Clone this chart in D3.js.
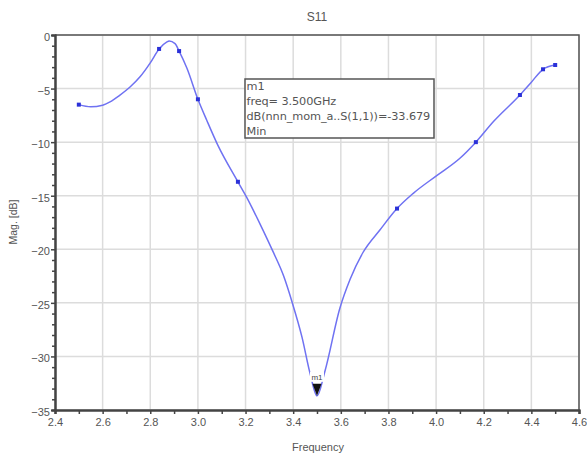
<!DOCTYPE html>
<html>
<head>
<meta charset="utf-8">
<script src="https://cdn.jsdelivr.net/npm/d3@7"></script>
<style>
  body { margin: 0; background: #fff; }
  svg { display: block; font-family: "Liberation Sans", Arial, sans-serif; }
</style>
</head>
<body>
<svg id="chart" width="587" height="458"></svg>
<script>
// S11 sweep (GHz, dB)
const freq = [2.5, 2.55, 2.6, 2.631, 2.67, 2.715, 2.757, 2.8, 2.837, 2.87, 2.879, 2.904, 2.921, 2.954,
  3.0, 3.038, 3.084, 3.168, 3.206, 3.26, 3.315, 3.36, 3.395, 3.437, 3.471, 3.5, 3.533, 3.596, 3.639,
  3.693, 3.764, 3.836, 3.903, 4.004, 4.1, 4.167, 4.24, 4.352, 4.4, 4.449, 4.5];
const s11 = [-6.5, -6.7, -6.55, -6.25, -5.65, -4.85, -3.9, -2.6, -1.3, -0.65, -0.55, -0.8, -1.5, -3.1,
  -6.0, -8.0, -10.3, -13.7, -15.2, -17.6, -20.2, -22.5, -24.9, -28.2, -31.6, -33.679, -31.4, -25.5, -22.8,
  -20.3, -18.2, -16.2, -14.8, -13.1, -11.5, -10.0, -8.1, -5.6, -4.4, -3.2, -2.8];
// sample points drawn as dots
const sampleFreq = [2.5, 2.837, 2.921, 3.0, 3.168, 3.836, 4.167, 4.352, 4.449, 4.5];

const xTicks = [2.4, 2.6, 2.8, 3.0, 3.2, 3.4, 3.6, 3.8, 4.0, 4.2, 4.4, 4.6];
const yTicks = [0, -5, -10, -15, -20, -25, -30, -35];

const markerName = "m1";
const markerFreq = 3.5;
const markerVal = -33.679;
const markerLines = ["m1", "freq= 3.500GHz", "dB(nnn_mom_a..S(1,1))=-33.679", "Min"];

const svg = d3.select("#chart");
const x = d3.scaleLinear().domain([2.4, 4.6]).range([55, 579]);
const y = d3.scaleLinear().domain([-35, 0]).range([410, 35]);

// Grid
svg.append("g").selectAll("line").data(xTicks).join("line")
  .attr("x1", d => x(d)).attr("x2", d => x(d))
  .attr("y1", y(0)).attr("y2", y(-35))
  .attr("stroke", "#dcdcdc").attr("stroke-width", 1.5);
svg.append("g").selectAll("line").data(yTicks).join("line")
  .attr("x1", x(2.4)).attr("x2", x(4.6))
  .attr("y1", d => y(d)).attr("y2", d => y(d))
  .attr("stroke", "#dcdcdc").attr("stroke-width", 1.5);

// Frame (top / right)
svg.append("path")
  .attr("d", `M${x(2.4)},${y(0)}H${x(4.6)}V${y(-35)}`)
  .attr("fill", "none").attr("stroke", "#555").attr("stroke-width", 1.5);

// Axes
const xAxis = svg.append("g")
  .attr("transform", `translate(0,${y(-35)})`)
  .call(d3.axisBottom(x).tickValues(xTicks).tickFormat(d3.format(".1f")).tickSize(4).tickPadding(4));
const xMinor = svg.append("g")
  .attr("transform", `translate(0,${y(-35)})`)
  .call(d3.axisBottom(x).tickValues(xTicks.slice(0, -1).map(d => d + 0.1)).tickFormat("").tickSize(4));
const yAxis = svg.append("g")
  .attr("transform", `translate(${x(2.4)},0)`)
  .call(d3.axisLeft(y).tickValues(yTicks).tickFormat(d3.format("d")).tickSize(4).tickPadding(1));
const yMinor = svg.append("g")
  .attr("transform", `translate(${x(2.4)},0)`)
  .call(d3.axisLeft(y).tickValues(d3.range(-34, 0).filter(d => d % 5 !== 0)).tickFormat("").tickSize(3));

[xAxis, xMinor, yAxis, yMinor].forEach(a => {
  a.select(".domain").attr("stroke", "#444").attr("stroke-width", 2);
  a.selectAll(".tick line").attr("stroke", "#444").attr("stroke-width", 1.5);
  a.selectAll("text").attr("fill", "#555").attr("font-size", 11);
});
yAxis.selectAll("text").attr("dy", "0.5em");

// Curve
const pts = freq.map((f, i) => ({ f, v: s11[i] }));
const line = d3.line()
  .x(d => x(d.f)).y(d => y(d.v))
  .curve(d3.curveMonotoneX);
svg.append("path")
  .datum(pts)
  .attr("fill", "none")
  .attr("stroke", "#6f72f2")
  .attr("stroke-width", 1.5)
  .attr("d", line);

svg.append("g").selectAll("rect")
  .data(pts.filter(d => sampleFreq.includes(d.f)))
  .join("rect")
  .attr("x", d => x(d.f) - 2).attr("y", d => y(d.v) - 2)
  .attr("width", 4).attr("height", 4)
  .attr("fill", "#2b31d8");

// Marker triangle at min
const mx = x(markerFreq), my = y(markerVal);
svg.append("path")
  .attr("d", `M${mx},${my}L${mx - 4.5},${my - 12}L${mx + 4.5},${my - 12}Z`)
  .attr("fill", "#111");
svg.append("rect")
  .attr("x", mx - 7).attr("y", my - 24).attr("width", 14).attr("height", 10)
  .attr("fill", "#fff");
svg.append("text")
  .attr("x", mx).attr("y", my - 16)
  .attr("text-anchor", "middle").attr("font-size", 8).attr("fill", "#444")
  .text(markerName);

// Marker readout box
const box = svg.append("g").attr("transform", "translate(245,79)");
box.append("rect")
  .attr("width", 189).attr("height", 59)
  .attr("fill", "#fff").attr("stroke", "#555").attr("stroke-width", 1.5);
box.selectAll("text").data(markerLines).join("text")
  .attr("x", 1.5).attr("y", (d, i) => 10.5 + i * 15)
  .attr("font-family", "'DejaVu Sans', sans-serif")
  .attr("font-size", 11.3).attr("letter-spacing", -0.1).attr("fill", "#555")
  .text(d => d);

// Titles
svg.append("text")
  .attr("x", 317).attr("y", 21)
  .attr("text-anchor", "middle").attr("font-size", 12).attr("fill", "#555")
  .text("S11");
svg.append("text")
  .attr("x", 318).attr("y", 451)
  .attr("text-anchor", "middle").attr("font-size", 11).attr("fill", "#555")
  .text("Frequency");
svg.append("text")
  .attr("transform", "translate(17,222) rotate(-90)")
  .attr("text-anchor", "middle").attr("font-size", 10.5).attr("fill", "#555")
  .text("Mag. [dB]");
</script>
</body>
</html>
